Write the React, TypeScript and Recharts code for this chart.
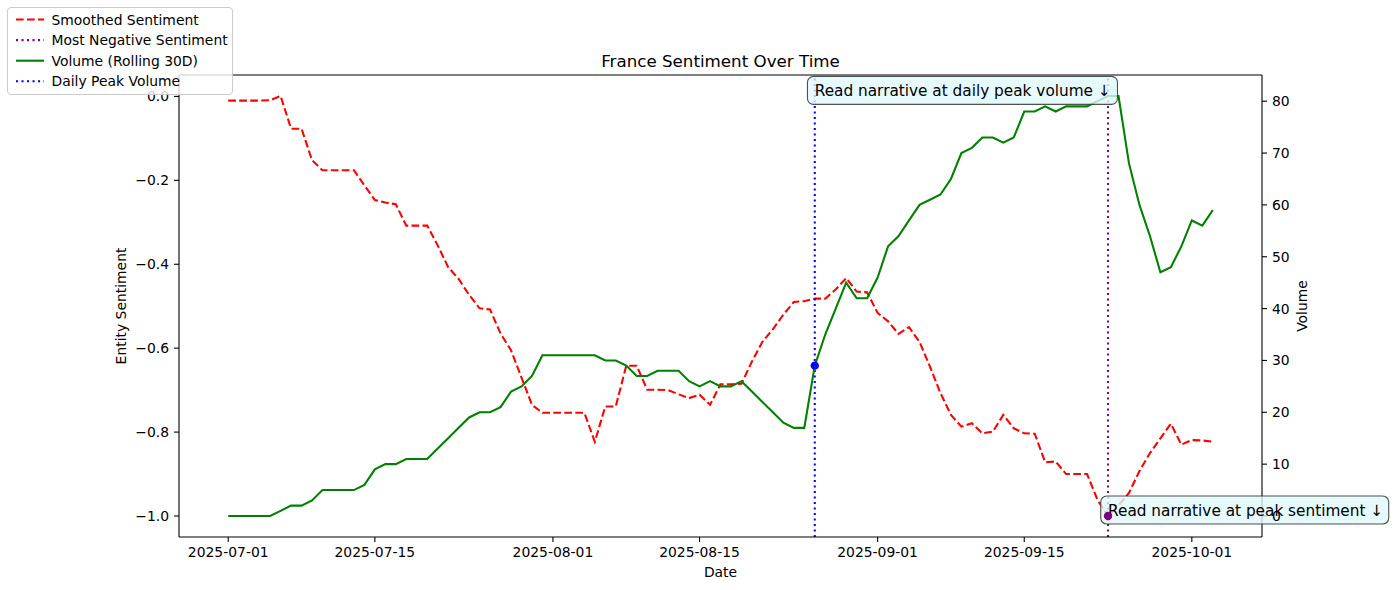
import React from 'react';
import {
  ComposedChart,
  Line,
  XAxis,
  YAxis,
  ReferenceLine,
  ReferenceDot,
  Legend,
  Label,
} from 'recharts';

// ---- data (one value per day starting 2025-07-01) ----
const sentiment = [
  -0.01, -0.01, -0.01, -0.01, -0.009, 0.001, -0.077, -0.077, -0.152, -0.176,
  -0.176, -0.176, -0.176, -0.212, -0.247, -0.253, -0.257, -0.308, -0.308, -0.308,
  -0.355, -0.407, -0.435, -0.473, -0.505, -0.508, -0.565, -0.605, -0.67, -0.735,
  -0.754, -0.754, -0.754, -0.754, -0.754, -0.823, -0.739, -0.739, -0.642, -0.642,
  -0.699, -0.699, -0.7, -0.71, -0.719, -0.711, -0.735, -0.686, -0.686, -0.685,
  -0.632, -0.585, -0.555, -0.52, -0.49, -0.488, -0.482, -0.482, -0.46, -0.433,
  -0.465, -0.467, -0.516, -0.536, -0.566, -0.55, -0.585, -0.644, -0.707, -0.759,
  -0.787, -0.779, -0.803, -0.799, -0.759, -0.791, -0.803, -0.804, -0.872, -0.87,
  -0.9, -0.9, -0.9, -0.962, -1.0, -0.975, -0.945, -0.893, -0.85, -0.815,
  -0.78, -0.83, -0.819, -0.82, -0.823,
];

const volume = [
  0, 0, 0, 0, 0, 1, 2, 2, 3, 5,
  5, 5, 5, 6, 9, 10, 10, 11, 11, 11,
  13, 15, 17, 19, 20, 20, 21, 24, 25, 27,
  31, 31, 31, 31, 31, 31, 30, 30, 29, 27,
  27, 28, 28, 28, 26, 25, 26, 25, 25, 26,
  24, 22, 20, 18, 17, 17, 29, 35, 40, 45,
  42, 42, 46, 52, 54, 57, 60, 61, 62, 65,
  70, 71, 73, 73, 72, 73, 78, 78, 79, 78,
  79, 79, 79, 80, 81, 81, 68, 60, 54, 47,
  48, 52, 57, 56, 59,
];

const xTickDays = [0, 14, 31, 45, 62, 76, 92];
const xTickLabels = ['2025-07-01', '2025-07-15', '2025-08-01', '2025-08-15', '2025-09-01', '2025-09-15', '2025-10-01'];
const sentimentTicks = [0, -0.2, -0.4, -0.6, -0.8, -1.0];
const volumeTicks = [0, 10, 20, 30, 40, 50, 60, 70, 80];

const peakVolumeDay = 56;
const peakVolumeValue = 29;
const minSentimentDay = 84;
const minSentimentValue = -1.0;

const DASHED = '7.7 3.3';
const DOTTED = '2.1 3.4';

const legendItems = [
  { name: 'Smoothed Sentiment', color: 'red', dash: DASHED },
  { name: 'Most Negative Sentiment', color: 'purple', dash: DOTTED },
  { name: 'Volume (Rolling 30D)', color: 'green', dash: '' },
  { name: 'Daily Peak Volume', color: 'blue', dash: DOTTED },
];

// ---- derived ----
const data = sentiment.map((s, i) => ({ day: i, sentiment: s, volume: volume[i] }));
const nDays = sentiment.length - 1;
const X_DOMAIN: [number, number] = [-0.05 * nDays, nDays * 1.05];
const sMin = Math.min(...sentiment);
const sMax = Math.max(...sentiment);
const S_DOMAIN: [number, number] = [sMin - 0.05 * (sMax - sMin), sMax + 0.05 * (sMax - sMin)];
const vMin = Math.min(...volume);
const vMax = Math.max(...volume);
const V_DOMAIN: [number, number] = [vMin - 0.05 * (vMax - vMin), vMax + 0.05 * (vMax - vMin)];

const FONT = '"DejaVu Sans", sans-serif';
const TICK = { fill: '#000', fontSize: 13.9, fontFamily: FONT };
const LW = 2.08;

const fmtSent = (v: number) => (Math.abs(v) < 1e-9 ? '0.0' : (v < 0 ? '\u2212' : '') + Math.abs(v).toFixed(1));
const fmtDay = (d: number) => {
  const i = xTickDays.indexOf(d);
  return i >= 0 ? xTickLabels[i] : '';
};

const TitleContent = (props: any) => {
  const vb = props.viewBox || {};
  const cx = (vb.x ?? 179) + (vb.width ?? 1083) / 2;
  return (
    <text x={cx} y={(vb.y ?? 75) - 8.3} textAnchor="middle" fontSize={16.7} fontFamily={FONT} fill="#000">
      France Sentiment Over Time
    </text>
  );
};

const LeftLabel = (props: any) => {
  const vb = props.viewBox || {};
  const x = (vb.x ?? 0) + (vb.width ?? 179) - 58;
  const y = (vb.y ?? 75) + (vb.height ?? 462) / 2;
  return (
    <text x={x} y={y} transform={`rotate(-90, ${x}, ${y})`} textAnchor="middle" dominantBaseline="central" fontSize={13.9} fontFamily={FONT} fill="#000">
      Entity Sentiment
    </text>
  );
};

const RightLabel = (props: any) => {
  const vb = props.viewBox || {};
  const x = (vb.x ?? 1262) + 40;
  const y = (vb.y ?? 75) + (vb.height ?? 462) / 2;
  return (
    <text x={x} y={y} transform={`rotate(-90, ${x}, ${y})`} textAnchor="middle" dominantBaseline="central" fontSize={13.9} fontFamily={FONT} fill="#000">
      Volume
    </text>
  );
};

const BottomLabel = (props: any) => {
  const vb = props.viewBox || {};
  const x = (vb.x ?? 179) + (vb.width ?? 1083) / 2;
  const y = (vb.y ?? 537) + 35;
  return (
    <text x={x} y={y} textAnchor="middle" dominantBaseline="central" fontSize={13.9} fontFamily={FONT} fill="#000">
      Date
    </text>
  );
};

const makeAnnotation = (text: string, boxWidth: number) => (p: any) => {
  const cx = p.cx;
  const cy = p.cy;
  if (cx == null || cy == null) return <g />;
  return (
    <g>
      <rect x={cx - 7.3} y={cy - 20} width={boxWidth} height={28} rx={6} ry={6} fill="#e0f7fa" fillOpacity={0.8} stroke="#333" strokeOpacity={0.85} strokeWidth={1.1} />
      <text x={cx} y={cy} fontSize={15.3} fontFamily={FONT} fill="#000">{text}</text>
    </g>
  );
};

const renderLegend = () => (
  <div
    style={{
      width: 224,
      height: 86,
      border: '1px solid #cccccc',
      borderRadius: 4,
      background: 'rgba(255,255,255,0.8)',
      position: 'relative',
      boxSizing: 'content-box',
    }}
  >
    <svg width={224} height={86} style={{ position: 'absolute', left: 0, top: 0 }}>
      {legendItems.map((it, i) => {
        const y = 11.5 + i * 20.6;
        return (
          <g key={it.name}>
            <line x1={8} x2={36} y1={y} y2={y} stroke={it.color} strokeWidth={LW} strokeDasharray={it.dash || undefined} />
            <text x={43.5} y={y} dominantBaseline="central" fontSize={13.9} fontFamily={FONT} fill="#000">{it.name}</text>
          </g>
        );
      })}
    </svg>
  </div>
);

export default function App() {
  return (
    <div style={{ position: 'absolute', left: 0, top: 0, width: 1394, height: 590, background: '#fff', fontFamily: FONT }}>
      <ComposedChart width={1394} height={590} data={data} margin={{ top: 75, right: 0, bottom: 0, left: 0 }}>
        <XAxis
          xAxisId="x"
          dataKey="day"
          type="number"
          domain={X_DOMAIN}
          ticks={xTickDays}
          tickFormatter={fmtDay}
          tick={TICK}
          tickSize={5}
          tickMargin={5}
          height={53}
          stroke="#000"
          axisLine={{ stroke: '#000', strokeWidth: 1.1 }}
          tickLine={{ stroke: '#000', strokeWidth: 1.1 }}
          allowDataOverflow
        >
          <Label content={BottomLabel} />
        </XAxis>
        <YAxis
          yAxisId="left"
          type="number"
          domain={S_DOMAIN}
          ticks={sentimentTicks}
          tickFormatter={fmtSent}
          tick={TICK}
          tickSize={5}
          tickMargin={5}
          width={179}
          axisLine={{ stroke: '#000', strokeWidth: 1.1 }}
          tickLine={{ stroke: '#000', strokeWidth: 1.1 }}
          allowDataOverflow
        >
          <Label content={LeftLabel} />
        </YAxis>
        <YAxis
          yAxisId="right"
          orientation="right"
          type="number"
          domain={V_DOMAIN}
          ticks={volumeTicks}
          tick={TICK}
          tickSize={5}
          tickMargin={5}
          width={132}
          axisLine={{ stroke: '#000', strokeWidth: 1.1 }}
          tickLine={{ stroke: '#000', strokeWidth: 1.1 }}
          allowDataOverflow
        >
          <Label content={RightLabel} />
        </YAxis>

        <ReferenceLine xAxisId="x" yAxisId="left" y={S_DOMAIN[1]} stroke="#000" strokeWidth={1.1} label={TitleContent} />

        <Line xAxisId="x" yAxisId="left" type="linear" dataKey="sentiment" stroke="red" strokeWidth={LW} strokeDasharray={DASHED} dot={false} activeDot={false} isAnimationActive={false} />
        <ReferenceLine xAxisId="x" yAxisId="left" x={minSentimentDay} stroke="purple" strokeWidth={LW} strokeDasharray={DOTTED} />
        <ReferenceLine xAxisId="x" yAxisId="left" x={peakVolumeDay} stroke="blue" strokeWidth={LW} strokeDasharray={DOTTED} />
        <Line xAxisId="x" yAxisId="right" type="linear" dataKey="volume" stroke="green" strokeWidth={LW} dot={false} activeDot={false} isAnimationActive={false} />

        <ReferenceDot xAxisId="x" yAxisId="left" x={peakVolumeDay} y={0} r={1} shape={makeAnnotation('Read narrative at daily peak volume \u2193', 310)} />
        <ReferenceDot xAxisId="x" yAxisId="left" x={minSentimentDay} y={minSentimentValue} r={1} shape={makeAnnotation('Read narrative at peak sentiment \u2193', 288)} />

        <ReferenceDot xAxisId="x" yAxisId="right" x={peakVolumeDay} y={peakVolumeValue} r={4.2} fill="blue" stroke="none" />
        <ReferenceDot xAxisId="x" yAxisId="left" x={minSentimentDay} y={minSentimentValue} r={4.2} fill="purple" stroke="none" />

        <Legend
          layout="horizontal"
          verticalAlign="middle"
          align="center"
          content={renderLegend}
          wrapperStyle={{ position: 'absolute', left: 7, top: 7, width: 226, height: 88, margin: 0 }}
        />
      </ComposedChart>
    </div>
  );
}
